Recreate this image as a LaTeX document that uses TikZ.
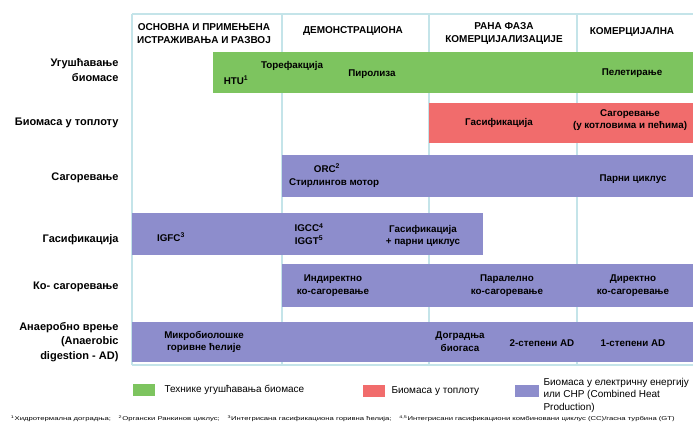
\documentclass[tikz,border=0pt]{standalone}
\usepackage{fontspec}
\setmainfont{Liberation Sans}
\definecolor{barGreen}{RGB}{125,196,95}
\definecolor{barRed}{RGB}{241,108,108}
\definecolor{barPurple}{RGB}{141,141,204}
\definecolor{gridCyan}{RGB}{196,228,233}
\tikzset{
  gridline/.style={draw=gridCyan,line width=1.4pt},
  colhead/.style={font=\bfseries\fontsize{10}{12.5}\selectfont,align=center},
  rowlabel/.style={font=\bfseries\fontsize{11}{14.5}\selectfont,align=right,anchor=east},
  bartext/.style={font=\bfseries\fontsize{9.8}{12.8}\selectfont,align=center},
  legtext/.style={font=\fontsize{10}{12.5}\selectfont,align=left,anchor=west}
}
\begin{document}
\begin{tikzpicture}[x=1pt,y=-1pt]
\useasboundingbox(0,0)rectangle(693,426);
% grid
\draw[gridline](132,14)--(693,14);
\foreach \x in {132,282,429,577}
\draw[gridline](\x,14)--(\x,365);
\draw[gridline](132,365)--(693,365);
% bars
\fill[barGreen](213,52)rectangle(693,93);
\fill[barRed](429,103)rectangle(693,143);
\fill[barPurple](282,155)rectangle(693,197);
\fill[barPurple](132,213)rectangle(483,255);
\fill[barPurple](282,264)rectangle(693,307);
\fill[barPurple](132,322)rectangle(693,362);
% column heads
\node[colhead](hBasic)at(204,33.5){ОСНОВНА И ПРИМЕЊЕНА\\ИСТРАЖИВАЊА И РАЗВОЈ};
\node[colhead](hDemo)at(353,31){ДЕМОНСТРАЦИОНА};
\node[colhead](hEarly)at(504,33.5){РАНА ФАЗА\\КОМЕРЦИЈАЛИЗАЦИЈЕ};
\node[colhead](hComm)at(632,32){КОМЕРЦИЈАЛНА};
% row labels
\node[rowlabel](rDens)at(122,70){Угушћавање\\биомасе};
\node[rowlabel](rHeat)at(122,123){Биомаса у топлоту};
\node[rowlabel](rComb)at(122,178){Сагоревање};
\node[rowlabel](rGas)at(122,240){Гасификација};
\node[rowlabel](rCoComb)at(122,287){Ко- сагоревање};
\node[rowlabel](rAD)at(122,342){Анаеробно врење\\(Anaerobic\\digestion - AD)};
% green row
\node[bartext](tHTU)at(236,80){HTU\textsuperscript{1}};
\node[bartext](tTorr)at(292,66){Торефакција};
\node[bartext](tPyro)at(372,74){Пиролиза};
\node[bartext](tPellet)at(632,73){Пелетирање};
% red row
\node[bartext](tHeatGas)at(499,123){Гасификација};
\node[bartext](tHeatComb)at(630,120){Сагоревање\\(у котловима и пећима)};
% combustion
\node[bartext](tORC)at(327,168){ORC\textsuperscript{2}};
\node[bartext](tStirling)at(334,183){Стирлингов мотор};
\node[bartext](tSteam)at(633,179){Парни циклус};
% gasification
\node[bartext](tIGFC)at(171,237){IGFC\textsuperscript{3}};
\node[bartext](tIGCC)at(309,234){IGCC\textsuperscript{4}\\IGGT\textsuperscript{5}};
\node[bartext](tGasSteam)at(423,236){Гасификација\\+ парни циклус};
% co-combustion
\node[bartext](tIndirect)at(333,286){Индиректно\\ко-сагоревање};
\node[bartext](tParallel)at(507,286){Паралелно\\ко-сагоревање};
\node[bartext](tDirect)at(633,286){Директно\\ко-сагоревање};
% anaerobic digestion
\node[bartext](tMicro)at(204,342){Микробиолошке\\горивне ћелије};
\node[bartext](tUpgrade)at(460,342){Доградња\\биогаса};
\node[bartext](tTwoStage)at(542,343){2-степени AD};
\node[bartext](tOneStage)at(633,343){1-степени AD};
% legend
\fill[barGreen](133,384)rectangle(155,396);
\node[legtext](lGreen)at(161,390){Технике угушћавања биомасе};
\fill[barRed](363,385)rectangle(385,397);
\node[legtext](lRed)at(388,391){Биомаса у топлоту};
\fill[barPurple](515,385)rectangle(539,397);
\node[legtext](lPurple)at(540,395){Биомаса у електричну енергију\\или CHP (Combined Heat\\Production)};
% footnote
\node[anchor=west,font=\fontsize{5.5}{6}\selectfont,xscale=1.4,transform shape](fNote)at(6,419)
{\textsuperscript{1}Хидротермална доградња;\quad \textsuperscript{2}Органски Ранкинов циклус;\quad \textsuperscript{3}Интегрисана гасификациона горивна ћелија;\quad \textsuperscript{4,5}Интегрисани гасификациони комбиновани циклус (CC)/гасна турбина (GT)};
\end{tikzpicture}
\end{document}
